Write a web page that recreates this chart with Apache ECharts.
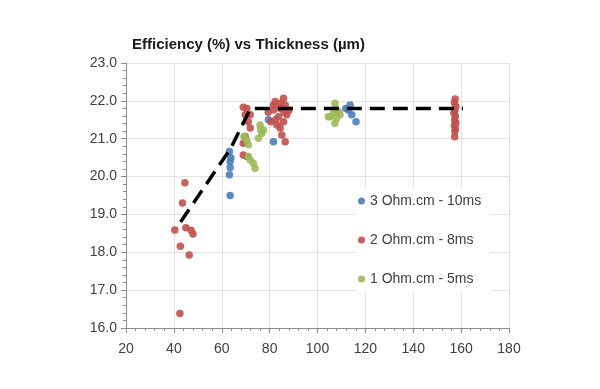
<!DOCTYPE html>
<html>
<head>
<meta charset="utf-8">
<script src="https://cdn.jsdelivr.net/npm/echarts@6/dist/echarts.min.js"></script>
<style>html,body{margin:0;padding:0;background:#fff}#c{width:600px;height:389px}</style>
</head>
<body>
<div id="c"></div>
<script>
var titleText = 'Efficiency (%) vs Thickness (\u00b5m)';
var seriesNames = ['3 Ohm.cm - 10ms', '2 Ohm.cm - 8ms', '1 Ohm.cm - 5ms'];
var xTicks = [20, 180, 20];
var yTicks = [16, 23, 1];

var blue = [[63.2,20.66],[63.8,20.5],[63.5,20.40],[63.5,20.24],[63.2,20.05],[63.5,19.50],
  [79.5,21.5],[81.6,20.92],[113.6,21.89],[112.9,21.76],[114.3,21.63],[116.1,21.45],[111.8,21.8]];

var red = [[44.6,19.84],[43.6,19.30],[40.4,18.59],[45.0,18.65],[47.2,18.58],[48.0,18.48],[42.7,18.16],[46.4,17.93],[42.5,16.38],
  [69.0,21.83],[70.5,21.80],[69.8,21.63],[71.1,21.45],[71.9,21.28],[69.8,21.06],[69.0,20.88],[69.0,20.57],[70.5,20.53],[71.9,21.63],
  [81.6,21.89],[84.4,21.94],[86.5,21.89],[85.8,22.07],[82.3,21.98],[84.4,21.80],[81.6,21.76],[83.7,21.58],[87.2,21.63],[85.8,21.45],
  [83.0,21.36],[84.4,21.28],[85.1,21.10],[86.5,20.92],[79.4,21.70],[80.5,21.45],[86.0,21.70],[88.0,21.75],[82.5,21.50],
  [157.5,22.05],[157.2,21.95],[157.8,21.85],[157.4,21.75],[157.0,21.68],[157.6,21.60],[157.3,21.50],[157.8,21.42],[157.2,21.35],
  [157.6,21.27],[157.4,21.20],[157.3,21.05]];

var green = [[69.3,21.06],[71.1,20.84],[70.5,20.95],[71.9,20.44],[73.2,20.35],[73.9,20.22],[71.1,20.53],[76.0,21.36],[76.7,21.14],
  [75.3,21.01],[77.4,21.23],[76.2,21.25],[107.3,21.94],[108.7,21.72],[106.6,21.67],[105.2,21.58],[108.0,21.54],[109.4,21.63],
  [107.3,21.41],[104.5,21.58],[107.5,21.80]];

var trend = [[42.8,18.8],[63.8,20.75],[72,21.8],[160.8,21.8]];

var colors = ['#4a7ebb', '#c0504d', '#9bbb59'];

var chart = echarts.init(document.getElementById('c'), null, {renderer: 'canvas'});
var axisCommon = {
  axisLine: {show: true, onZero: false, lineStyle: {color: '#8c8c8c', width: 1}},
  axisTick: {show: true, length: 5, lineStyle: {color: '#8c8c8c'}},
  minorTick: {show: true, splitNumber: 5, length: 3, lineStyle: {color: '#8c8c8c'}},
  splitLine: {show: true, lineStyle: {color: '#e3e3e3', width: 1}},
  axisLabel: {color: '#404040', fontSize: 14, fontFamily: 'Liberation Sans'}
};
chart.setOption({
  animation: false,
  color: colors,
  title: {text: titleText, left: 127, top: 32,
    textStyle: {fontFamily: 'Liberation Sans', fontWeight: 'bold', fontSize: 15, color: '#1a1a1a'}},
  grid: {left: 126, right: 91, top: 63, bottom: 61},
  legend: {
    data: seriesNames, orient: 'vertical', left: 355, top: 187,
    padding: [7, 9, 7, 3], itemGap: 25, itemWidth: 7, itemHeight: 7, icon: 'circle',
    backgroundColor: '#ffffff',
    textStyle: {fontFamily: 'Liberation Sans', fontSize: 14, color: '#404040'}
  },
  xAxis: Object.assign({type: 'value', min: xTicks[0], max: xTicks[1], interval: xTicks[2]}, axisCommon,
    {axisLabel: Object.assign({}, axisCommon.axisLabel, {margin: 14})}),
  yAxis: Object.assign({type: 'value', min: yTicks[0], max: yTicks[1], interval: yTicks[2]}, axisCommon,
    {axisLabel: Object.assign({}, axisCommon.axisLabel, {margin: 9, formatter: function(v){return v.toFixed(1);}})}),
  series: [
    {name: seriesNames[0], type: 'scatter', data: blue, symbolSize: 7.5, z: 3, itemStyle: {color: colors[0], opacity: 0.9}},
    {name: seriesNames[1], type: 'scatter', data: red, symbolSize: 7.5, z: 3, itemStyle: {color: colors[1], opacity: 0.9}},
    {name: seriesNames[2], type: 'scatter', data: green, symbolSize: 7.5, z: 3, itemStyle: {color: colors[2], opacity: 0.9}},
    {name: 'trend', type: 'line', data: trend, symbol: 'none', z: 4, silent: true,
      lineStyle: {color: '#000', width: 3.5, type: [15, 8]}}
  ]
});
</script>
</body>
</html>
